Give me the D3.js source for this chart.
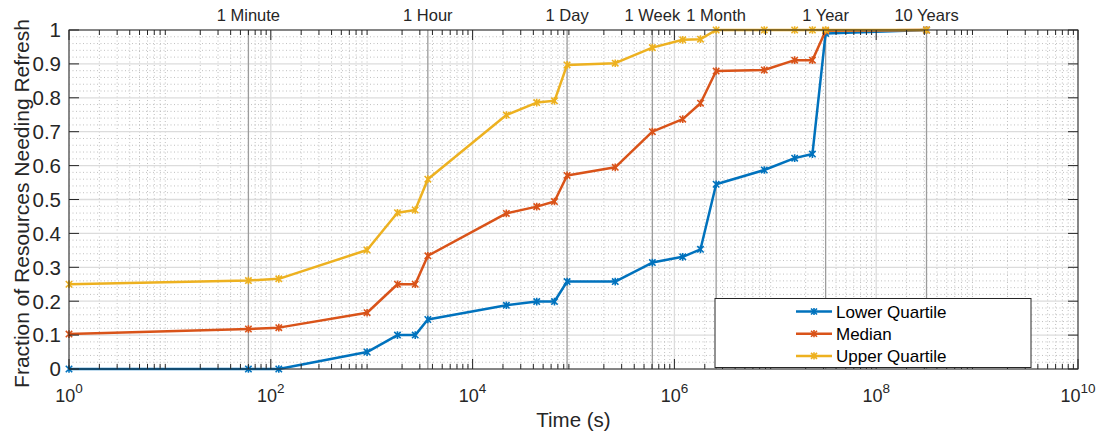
<!DOCTYPE html>
<html>
<head>
<meta charset="utf-8">
<script src="https://cdn.jsdelivr.net/npm/d3@7"></script>
<style>
  html, body { margin: 0; padding: 0; background: #fff; }
  svg { display: block; font-family: "Liberation Sans", Arial, Helvetica, sans-serif; }
</style>
</head>
<body>
<svg id="chart" width="1104" height="435"></svg>
<script>
// Time after which resources need refreshing (seconds)
const times = [1, 60, 120, 900, 1800, 2700, 3600, 21600, 43200, 64800, 86400,
  259200, 604800, 1209600, 1814400, 2592000, 7776000, 15552000, 23328000,
  31536000, 315360000];

const lowerQuartile = [0, 0, 0, 0.05, 0.10, 0.10, 0.146, 0.188, 0.199, 0.199, 0.258,
  0.258, 0.314, 0.331, 0.353, 0.545, 0.587, 0.622, 0.634, 0.990, 1.0];
const median = [0.103, 0.118, 0.122, 0.166, 0.250, 0.250, 0.334, 0.459, 0.479, 0.494, 0.571,
  0.595, 0.700, 0.737, 0.784, 0.879, 0.882, 0.911, 0.911, 0.998, 1.0];
const upperQuartile = [0.250, 0.261, 0.266, 0.351, 0.461, 0.469, 0.560, 0.749, 0.786, 0.791, 0.897,
  0.902, 0.948, 0.971, 0.973, 1.0, 1.0, 1.0, 1.0, 1.0, 1.0];

const seriesNames = ["Lower Quartile", "Median", "Upper Quartile"];
const seriesColors = ["#0072BD", "#D95319", "#EDB120"];

// Reference durations marked with vertical lines
const markerNames = ["1 Minute", "1 Hour", "1 Day", "1 Week", "1 Month", "1 Year", "10 Years"];
const markerTimes = [60, 3600, 86400, 604800, 2592000, 31536000, 315360000];

const xTickExponents = [0, 2, 4, 6, 8, 10];
const yTicks = [0, 0.1, 0.2, 0.3, 0.4, 0.5, 0.6, 0.7, 0.8, 0.9, 1];

const svg = d3.select("#chart");
const L = 69, R = 1078, T = 30, B = 369;
const axisColor = "#262626";

const x = d3.scaleLog().domain([1, 1e10]).range([L, R]);
const y = d3.scaleLinear().domain([0, 1]).range([B, T]);

// Grid: minor dotted lines first, then major solid lines
const grid = svg.append("g");
const minorX = [];
for (let e = 0; e < 10; e++) for (let m = 2; m <= 9; m++) minorX.push(m * Math.pow(10, e));
const minorY = d3.range(0, 51).map(i => i * 0.02).filter((v, i) => i % 5 !== 0);

grid.selectAll(".mx").data(minorX).join("line")
  .attr("x1", d => x(d)).attr("x2", d => x(d)).attr("y1", T).attr("y2", B)
  .attr("stroke", "#b0b0b0").attr("stroke-width", 0.8).attr("stroke-dasharray", "1 2.5");
grid.selectAll(".my").data(minorY).join("line")
  .attr("x1", L).attr("x2", R).attr("y1", d => y(d)).attr("y2", d => y(d))
  .attr("stroke", "#b0b0b0").attr("stroke-width", 0.8).attr("stroke-dasharray", "1 2.5");
grid.selectAll(".gx").data(xTickExponents).join("line")
  .attr("x1", d => x(Math.pow(10, d))).attr("x2", d => x(Math.pow(10, d))).attr("y1", T).attr("y2", B)
  .attr("stroke", "#dcdcdc").attr("stroke-width", 1.3);
grid.selectAll(".gy").data(yTicks).join("line")
  .attr("x1", L).attr("x2", R).attr("y1", d => y(d)).attr("y2", d => y(d))
  .attr("stroke", "#dcdcdc").attr("stroke-width", 1.3);

// Duration marker lines and their labels
const marks = svg.append("g");
marks.selectAll("line").data(markerTimes).join("line")
  .attr("x1", d => x(d)).attr("x2", d => x(d)).attr("y1", T).attr("y2", B)
  .attr("stroke", "#9c9c9c").attr("stroke-width", 1.3);
marks.selectAll("text").data(markerNames).join("text")
  .attr("x", (d, i) => x(markerTimes[i])).attr("y", 21)
  .attr("text-anchor", "middle").attr("font-size", 16.5).attr("fill", axisColor)
  .text(d => d);

// Series lines with asterisk markers
const allSeries = [lowerQuartile, median, upperQuartile];
const line = d3.line().x(d => x(d[0])).y(d => y(d[1]));

function asterisk(g, cx, cy, color, s) {
  const p = `M${cx - s},${cy - s}L${cx + s},${cy + s}M${cx - s},${cy + s}L${cx + s},${cy - s}M${cx},${cy - s * 1.2}L${cx},${cy + s * 1.2}`;
  g.append("path").attr("d", p).attr("stroke", color).attr("stroke-width", 1.6).attr("fill", "none");
}

allSeries.forEach((vals, si) => {
  const pts = times.map((t, i) => [t, vals[i]]);
  const g = svg.append("g");
  g.append("path").datum(pts).attr("d", line)
    .attr("fill", "none").attr("stroke", seriesColors[si]).attr("stroke-width", 2.5)
    .attr("stroke-linejoin", "round");
  pts.forEach(p => asterisk(g, x(p[0]), y(p[1]), seriesColors[si], 3.2));
});

// Axes box and inward ticks
const ax = svg.append("g").attr("stroke", axisColor).attr("stroke-width", 1);
ax.append("rect").attr("x", L).attr("y", T).attr("width", R - L).attr("height", B - T).attr("fill", "none");
xTickExponents.forEach(e => {
  const px = x(Math.pow(10, e));
  ax.append("line").attr("x1", px).attr("x2", px).attr("y1", B).attr("y2", B - 10);
  ax.append("line").attr("x1", px).attr("x2", px).attr("y1", T).attr("y2", T + 10);
});
minorX.forEach(v => {
  const px = x(v);
  ax.append("line").attr("x1", px).attr("x2", px).attr("y1", B).attr("y2", B - 5);
  ax.append("line").attr("x1", px).attr("x2", px).attr("y1", T).attr("y2", T + 5);
});
yTicks.forEach(v => {
  const py = y(v);
  ax.append("line").attr("x1", L).attr("x2", L + 10).attr("y1", py).attr("y2", py);
  ax.append("line").attr("x1", R).attr("x2", R - 10).attr("y1", py).attr("y2", py);
});

// Tick labels
const tl = svg.append("g").attr("fill", axisColor);
tl.selectAll(".yl").data(yTicks).join("text")
  .attr("x", L - 8).attr("y", d => y(d)).attr("dy", "0.36em")
  .attr("text-anchor", "end").attr("font-size", 20.5)
  .text(d => d3.format("~g")(d));
xTickExponents.forEach(e => {
  const t = tl.append("text").attr("x", x(Math.pow(10, e))).attr("y", 402)
    .attr("text-anchor", "middle").attr("font-size", 18);
  t.append("tspan").text("10");
  t.append("tspan").attr("font-size", 13.5).attr("dy", -9).text(e);
});

// Axis titles
svg.append("text").attr("x", (L + R) / 2).attr("y", 427)
  .attr("text-anchor", "middle").attr("font-size", 20.5).attr("fill", axisColor)
  .text("Time (s)");
svg.append("text").attr("transform", `translate(29,${(T + B) / 2 + 4}) rotate(-90)`)
  .attr("text-anchor", "middle").attr("font-size", 21).attr("fill", axisColor)
  .text("Fraction of Resources Needing Refresh");

// Legend
const lg = svg.append("g");
lg.append("rect").attr("x", 715).attr("y", 298.5).attr("width", 316).attr("height", 69)
  .attr("fill", "#fff").attr("stroke", axisColor).attr("stroke-width", 1);
seriesNames.forEach((name, i) => {
  const ly = 311.5 + i * 22.2;
  lg.append("line").attr("x1", 796).attr("x2", 832).attr("y1", ly).attr("y2", ly)
    .attr("stroke", seriesColors[i]).attr("stroke-width", 2.5);
  asterisk(lg, 814, ly, seriesColors[i], 3);
  lg.append("text").attr("x", 836).attr("y", ly).attr("dy", "0.36em")
    .attr("font-size", 17).attr("fill", "#000").text(name);
});
</script>
</body>
</html>
